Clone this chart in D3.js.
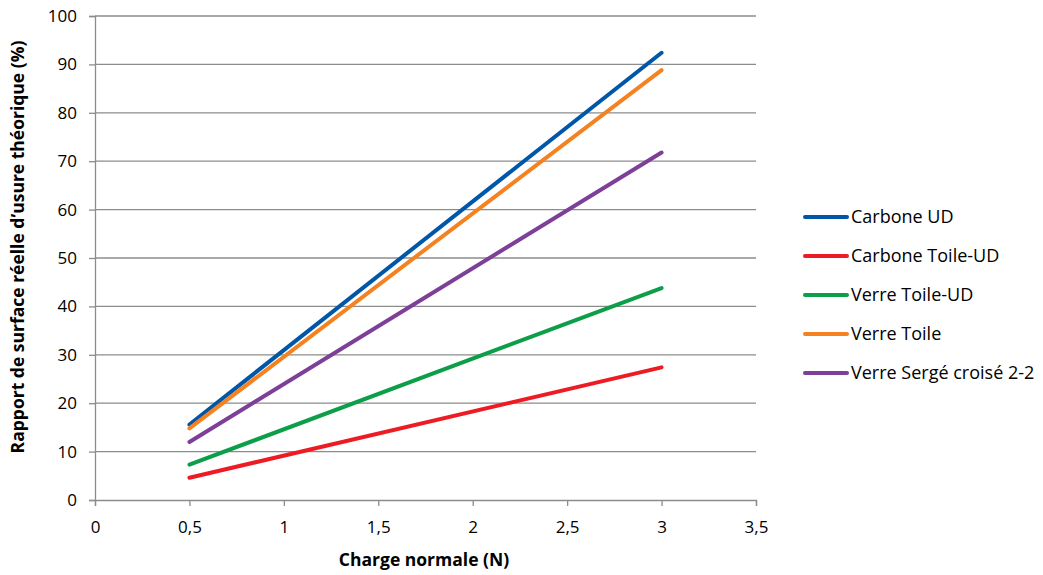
<!DOCTYPE html>
<html><head><meta charset="utf-8">
<script src="https://cdn.jsdelivr.net/npm/d3@7"></script>
<style>body{margin:0;background:#fff}text{font-family:"Open Sans",sans-serif}</style>
</head><body><svg id="c" width="1043" height="575"></svg>
<script>
const xValues = [0.5, 3];
const seriesNames = ["Carbone UD", "Carbone Toile-UD", "Verre Toile-UD", "Verre Toile", "Verre Sergé croisé 2-2"];
const carboneUD = [15.6, 92.4];
const carboneToileUD = [4.6, 27.4];
const verreToileUD = [7.3, 43.8];
const verreToile = [14.8, 88.8];
const verreSerge = [12.0, 71.8];
const seriesValues = [carboneUD, carboneToileUD, verreToileUD, verreToile, verreSerge];
const colors = ["#0057A8", "#ED1C24", "#0C9E48", "#F58220", "#7D3F98"];
const xTicks = [0, 0.5, 1, 1.5, 2, 2.5, 3, 3.5];
const yTicks = [0, 10, 20, 30, 40, 50, 60, 70, 80, 90, 100];

const svg = d3.select("#c");
const x = d3.scaleLinear().domain([0, 3.5]).range([95, 756]);
const y = d3.scaleLinear().domain([0, 100]).range([500, 16]);
const fmt = d => String(d).replace(".", ",");

// gridlines
svg.append("g").selectAll("line").data(yTicks.slice(1)).join("line")
  .attr("x1", x(0)).attr("x2", x(3.5)).attr("y1", d => y(d)).attr("y2", d => y(d))
  .attr("stroke", "#8c8c8c").attr("stroke-width", 1.3);

const ya = svg.append("g").attr("transform", `translate(${x(0)},0)`)
  .call(d3.axisLeft(y).tickValues(yTicks).tickSize(6).tickPadding(12).tickFormat(fmt));
const xa = svg.append("g").attr("transform", `translate(0,${y(0)})`)
  .call(d3.axisBottom(x).tickValues(xTicks).tickSize(6).tickPadding(15).tickFormat(fmt));
[ya, xa].forEach(a => {
  a.select(".domain").attr("stroke", "#8c8c8c").attr("stroke-width", 1.3);
  a.selectAll(".tick line").attr("stroke", "#8c8c8c").attr("stroke-width", 1.3);
  a.selectAll("text").attr("font-size", 17).attr("fill", "#000").style("font-family", "'Open Sans', sans-serif");
});

const line = d3.line().x((d, i) => x(xValues[i])).y(d => y(d));
svg.append("g").selectAll("path").data(seriesValues).join("path")
  .attr("d", line).attr("fill", "none").attr("stroke", (d, i) => colors[i])
  .attr("stroke-width", 4).attr("stroke-linecap", "round");

// legend
const lg = svg.append("g").selectAll("g").data(seriesNames).join("g")
  .attr("transform", (d, i) => `translate(0,${217 + i * 39})`);
lg.append("line").attr("x1", 805).attr("x2", 847).attr("stroke", (d, i) => colors[i])
  .attr("stroke-width", 4).attr("stroke-linecap", "round");
lg.append("text").attr("x", 851).attr("dy", "0.35em").attr("font-size", 18).text(d => d);

svg.append("text").attr("x", 424).attr("y", 566).attr("text-anchor", "middle")
  .attr("font-size", 17.5).attr("font-weight", "bold").text("Charge normale (N)");
svg.append("text").attr("transform", "translate(24,247) rotate(-90)").attr("text-anchor", "middle")
  .attr("font-size", 17.5).attr("font-weight", "bold").text("Rapport de surface réelle d’usure théorique (%)");
</script></body></html>
